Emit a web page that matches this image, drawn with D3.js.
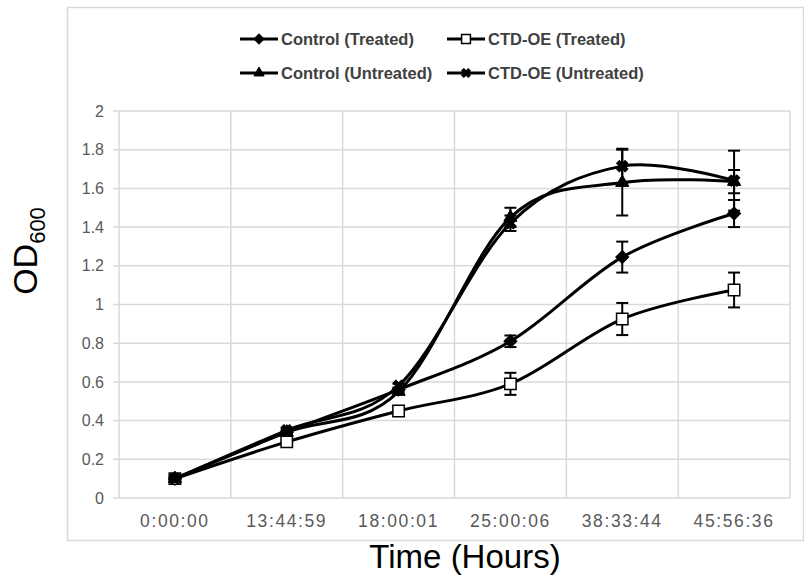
<!DOCTYPE html>
<html>
<head>
<meta charset="utf-8">
<script src="https://cdn.jsdelivr.net/npm/d3@7"></script>
<style>
  body { margin: 0; background: #fff; }
  svg { display: block; font-family: "Liberation Sans", Arial, sans-serif; }
</style>
</head>
<body>
<svg id="chart" width="804" height="577"></svg>
<script>
// time points (x categories)
const times = ['0:00:00', '13:44:59', '18:00:01', '25:00:06', '38:33:44', '45:56:36'];
const yTicks = [0, 0.2, 0.4, 0.6, 0.8, 1, 1.2, 1.4, 1.6, 1.8, 2];

// OD600 readings
const controlTreated = [0.10, 0.34, 0.56, 0.81, 1.245, 1.47];
const ctdTreated = [0.10, 0.29, 0.45, 0.59, 0.925, 1.075];
const controlUntreated = [0.10, 0.34, 0.55, 1.45, 1.63, 1.635];
const ctdUntreated = [0.10, 0.35, 0.58, 1.42, 1.715, 1.64];

// error bar half-widths
const controlTreatedErr = [0.01, 0.01, 0.01, 0.03, 0.08, 0.07];
const ctdTreatedErr = [0.01, 0.01, 0.01, 0.057, 0.083, 0.09];
const controlUntreatedErr = [0.01, 0.01, 0.01, 0.05, 0.17, 0.06];
const ctdUntreatedErr = [0.01, 0.01, 0.01, 0.04, 0.09, 0.155];

const seriesNames = ['Control (Treated)', 'CTD-OE (Treated)', 'Control (Untreated)', 'CTD-OE (Untreated)'];

const series = [
  { name: seriesNames[0], values: controlTreated, err: controlTreatedErr, marker: 'diamond' },
  { name: seriesNames[1], values: ctdTreated, err: ctdTreatedErr, marker: 'square' },
  { name: seriesNames[2], values: controlUntreated, err: controlUntreatedErr, marker: 'triangle' },
  { name: seriesNames[3], values: ctdUntreated, err: ctdUntreatedErr, marker: 'x' }
];

const svg = d3.select('#chart');
const GRID = '#d9d9d9';
const TICK_TEXT = '#595959';

//outer chart border
svg.append('rect')
  .attr('x', 67.5).attr('y', 7.5)
  .attr('width', 736).attr('height', 533)
  .attr('fill', 'none')
  .attr('stroke', GRID)
  .attr('stroke-width', 1.5);

//scales
const x = d3.scaleBand().domain(times).range([119, 790]);
const y = d3.scaleLinear().domain([0, 2]).range([498, 111]);

//horizontal gridlines + y ticks
const yGrid = svg.append('g');
yGrid.selectAll('line')
  .data(yTicks)
  .enter()
  .append('line')
  .attr('x1', 113)
  .attr('x2', 790)
  .attr('y1', d => y(d))
  .attr('y2', d => y(d))
  .attr('stroke', GRID)
  .attr('stroke-width', 1.5);

yGrid.selectAll('text')
  .data(yTicks)
  .enter()
  .append('text')
  .attr('x', 104)
  .attr('y', d => y(d))
  .attr('dy', '0.35em')
  .attr('text-anchor', 'end')
  .attr('font-size', 16)
  .attr('fill', TICK_TEXT)
  .text(d => d3.format('~g')(d));

//vertical gridlines at band edges
const edges = times.map(t => x(t)).concat([x.range()[1]]);
svg.append('g').selectAll('line')
  .data(edges)
  .enter()
  .append('line')
  .attr('x1', d => d)
  .attr('x2', d => d)
  .attr('y1', y(2))
  .attr('y2', y(0))
  .attr('stroke', GRID)
  .attr('stroke-width', 1.5);

//x tick labels
svg.append('g').selectAll('text')
  .data(times)
  .enter()
  .append('text')
  .attr('x', d => x(d) + x.bandwidth() / 2)
  .attr('y', 527)
  .attr('text-anchor', 'middle')
  .attr('font-size', 17.5)
  .attr('letter-spacing', 1.6)
  .attr('fill', TICK_TEXT)
  .text(d => d);

//axis titles
svg.append('text')
  .attr('x', 465)
  .attr('y', 568)
  .attr('text-anchor', 'middle')
  .attr('font-size', 33)
  .attr('fill', '#000')
  .text('Time (Hours)');

const yTitle = svg.append('text')
  .attr('transform', 'translate(37,251) rotate(-90)')
  .attr('text-anchor', 'middle')
  .attr('font-size', 34)
  .attr('fill', '#000');
yTitle.append('tspan').text('OD');
yTitle.append('tspan').attr('font-size', 22).attr('dy', 8).text('600');

//marker helper
const markerPath = (type, size) => {
  if (type === 'diamond') return d3.symbol(d3.symbolSquare, size)();
  if (type === 'square') return d3.symbol(d3.symbolSquare, size)();
  if (type === 'triangle') return d3.symbol(d3.symbolTriangle, size)();
  return d3.symbol(d3.symbolCross, size)();
};
const markerRotate = type => (type === 'diamond' || type === 'x') ? 45 : 0;

const drawMarker = (g, type, cx, cy, scale) => {
  const sizes = { diamond: 85, square: 130, triangle: 75, x: 80 };
  g.append('path')
    .attr('d', markerPath(type, sizes[type] * scale))
    .attr('transform', `translate(${cx},${cy}) rotate(${markerRotate(type)})`)
    .attr('fill', type === 'square' ? '#fff' : '#000')
    .attr('stroke', '#000')
    .attr('stroke-width', type === 'square' ? 1.5 : 1);
};

const line = d3.line()
  .x((d, i) => x(times[i]) + x.bandwidth() / 2)
  .y(d => y(d))
  .curve(d3.curveCatmullRom.alpha(0));

const plot = svg.append('g');

series.forEach(s => {
  const g = plot.append('g');

  g.append('path')
    .datum(s.values)
    .attr('fill', 'none')
    .attr('stroke', '#000')
    .attr('stroke-width', 3)
    .attr('d', line);

  //error bars
  s.values.forEach((v, i) => {
    const cx = x(times[i]) + x.bandwidth() / 2;
    const top = y(v + s.err[i]);
    const bot = y(v - s.err[i]);
    g.append('line')
      .attr('x1', cx).attr('x2', cx)
      .attr('y1', top).attr('y2', bot)
      .attr('stroke', '#000').attr('stroke-width', 2);
    [top, bot].forEach(yy => {
      g.append('line')
        .attr('x1', cx - 6).attr('x2', cx + 6)
        .attr('y1', yy).attr('y2', yy)
        .attr('stroke', '#000').attr('stroke-width', 2);
    });
  });

  s.values.forEach((v, i) => {
    drawMarker(g, s.marker, x(times[i]) + x.bandwidth() / 2, y(v), 1);
  });
});

//legend
const legendPos = [[240, 39], [447, 39], [240, 73], [447, 73]];
const legend = svg.append('g');
series.forEach((s, i) => {
  const [lx, ly] = legendPos[i];
  const item = legend.append('g');
  item.append('line')
    .attr('x1', lx).attr('x2', lx + 38)
    .attr('y1', ly).attr('y2', ly)
    .attr('stroke', '#000')
    .attr('stroke-width', 3);
  drawMarker(item, s.marker, lx + 19, ly, 0.6);
  item.append('text')
    .attr('x', lx + 41)
    .attr('y', ly)
    .attr('dy', '0.35em')
    .attr('font-size', 16.5)
    .attr('font-weight', 'bold')
    .attr('fill', '#404040')
    .text(s.name);
});
</script>
</body>
</html>
